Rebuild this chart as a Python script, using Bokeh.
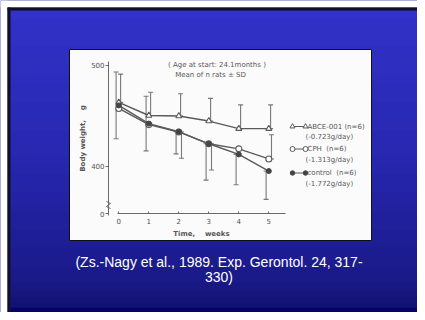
from bokeh.plotting import figure
from bokeh.models import Range1d, LinearAxis, FixedTicker
from bokeh.core.properties import value
from bokeh.embed import file_html
from bokeh.resources import INLINE

# ---------------- data ----------------
weeks = [0, 1, 2, 3, 4, 5]
abce_mean = [463, 450, 449.5, 444.5, 437, 437]
abce_sd_up = [28, 23, 22, 22.5, 23.5, 23.5]
abce_sd_down = [0, 0, 0, 0, 0, 0]
cph_mean = [457, 441, 433.7, 422, 417, 407]
cph_sd_up = [0, 0, 0, 0, 0, 24]
cph_sd_down = [0, 0, 26, 26, 0, 0]
ctrl_mean = [460, 442, 434, 422, 411.5, 395]
ctrl_sd_up = [33, 27, 0, 0, 0, 0]
ctrl_sd_down = [33, 27, 22, 36, 30, 28]
y_ticks = [500, 400]
y_break_value = 352.5
y_break_label = "0"
NB = "\u00a0"
title1 = "( Age at start: 24.1months )"
title2 = "Mean of n rats \u00b1 SD"
legend_names = ["ABCE-001 (n=6)", "CPH" + NB + NB + "(n=6)", "control" + NB + NB + "(n=6)"]
legend_rates = ["(-0.723g/day)", "(-1.313g/day)", "(-1.772g/day)"]
x_label = "Time," + NB * 4 + "weeks"
y_label = "Body weight," + NB * 4 + "g"
caption1 = "(Zs.-Nagy et al., 1989. Exp. Gerontol. 24, 317-"
caption2 = "330)"

# ---------------- layout ----------------
W, H = 417, 312
X0PX, XPX = 118.3, 30.0          # week 0 pixel, px per week
Y500PX, YPX = 64.5, 1.01          # pixel of 500 g, px per g


def px_x(fx):
    return (fx - X0PX) / XPX


def px_y(fy):
    return 500 - (fy - Y500PX) / YPX


p = figure(width=W, height=H, output_backend="svg", toolbar_location=None,
           x_range=Range1d(px_x(0), px_x(W)), y_range=Range1d(px_y(H), px_y(0)),
           min_border=0, x_axis_type=None, y_axis_type=None)
p.outline_line_color = None
p.grid.visible = False
p.background_fill_color = "#28289e"
p.border_fill_color = "white"

# gradient background of the slide
TOP0 = 10
stops = [(TOP0, (50, 50, 200)), (150, (40, 40, 178)), (280, (26, 26, 136)), (307, (18, 18, 112))]
lefts, rights, tops, bottoms, cols = [], [], [], [], []
for fy in range(TOP0, 307):
    for (a, ca), (b, cb) in zip(stops[:-1], stops[1:]):
        if a <= fy <= b:
            t = (fy - a) / (b - a)
            c = tuple(int(round(ca[k] + (cb[k] - ca[k]) * t)) for k in range(3))
            break
    lefts.append(px_x(TOP0)); rights.append(px_x(W))
    tops.append(px_y(fy)); bottoms.append(px_y(min(fy + 2, 307)))
    cols.append("#%02x%02x%02x" % c)
lefts.append(px_x(TOP0)); rights.append(px_x(W)); tops.append(px_y(307)); bottoms.append(px_y(H))
cols.append("#030368")
p.quad(left=lefts, right=rights, top=tops, bottom=bottoms, fill_color=cols, line_color=None)
# white page margin and dark edge left/top of the slide
p.quad(left=[px_x(0), px_x(0)], right=[px_x(7), px_x(W)], top=[px_y(0), px_y(0)],
       bottom=[px_y(H), px_y(7)], fill_color="white", line_color=None)
p.quad(left=[px_x(7), px_x(7)], right=[px_x(TOP0), px_x(W)], top=[px_y(7), px_y(7)],
       bottom=[px_y(H), px_y(TOP0)], fill_color="#10102a", line_color=None)

# white picture box
p.quad(left=[px_x(69)], right=[px_x(371)], top=[px_y(49)], bottom=[px_y(240)],
       fill_color="#fbfbfb", line_color="#111111", line_width=1)

GREY = "#6a6a6a"
TXT = "#585858"
FONT = value("DejaVu Sans")

# axes fixed inside frame
xaxis = LinearAxis(fixed_location=y_break_value, bounds=(-0.04, 5.56),
                   ticker=FixedTicker(ticks=weeks), axis_label=x_label)
xaxis.axis_line_color = GREY
xaxis.major_tick_line_color = GREY
xaxis.major_tick_in = 2
xaxis.major_tick_out = 0
xaxis.minor_tick_line_color = None
xaxis.major_label_text_font = "DejaVu Sans"
xaxis.major_label_text_font_size = "7px"
xaxis.major_label_text_color = "#505050"
xaxis.major_label_standoff = 4
xaxis.axis_label_text_font = "DejaVu Sans"
xaxis.axis_label_text_font_size = "7px"
xaxis.axis_label_text_font_style = "bold"
xaxis.axis_label_text_color = TXT
xaxis.axis_label_standoff = 3
p.add_layout(xaxis, "below")

yaxis = LinearAxis(fixed_location=px_x(108), bounds=(351, 503.5),
                   ticker=FixedTicker(ticks=y_ticks + [y_break_value]),
                   axis_label=y_label)
yaxis.major_label_overrides = {y_break_value: y_break_label}
yaxis.axis_line_color = GREY
yaxis.major_tick_line_color = GREY
yaxis.major_tick_in = 0
yaxis.major_tick_out = 3
yaxis.minor_tick_line_color = None
yaxis.major_label_text_font = "DejaVu Sans"
yaxis.major_label_text_font_size = "7px"
yaxis.major_label_text_color = "#505050"
yaxis.major_label_standoff = 1
yaxis.axis_label_text_font = "DejaVu Sans"
yaxis.axis_label_text_font_size = "7px"
yaxis.axis_label_text_font_style = "bold"
yaxis.axis_label_text_color = TXT
yaxis.axis_label_standoff = 1
p.add_layout(yaxis, "left")

# axis break mark
bx = [px_x(106), px_x(110), px_x(106), px_x(110)]
by = [px_y(201), px_y(203), px_y(206), px_y(208)]
p.line(bx, by, line_color=GREY, line_width=1)

# error bars
def errbars(means, up, down, offset):
    xs, y0, y1 = [], [], []
    for w, m, u, d in zip(weeks, means, up, down):
        if u > 0 or d > 0:
            xs.append(w + offset); y0.append(m - d); y1.append(m + u)
    p.segment(x0=xs, x1=xs, y0=y0, y1=y1, line_color="#777777", line_width=1.1)
    p.scatter(x=xs + xs, y=y1 + y0, marker="dash", size=5, line_color="#777777", line_width=1.1)

errbars(abce_mean, abce_sd_up, abce_sd_down, 0.06)
errbars(ctrl_mean, ctrl_sd_up, ctrl_sd_down, -0.09)
errbars(cph_mean, cph_sd_up, cph_sd_down, 0.09)

LINE = "#5a5a5a"
p.line(weeks, abce_mean, line_color=LINE, line_width=1.4)
p.line(weeks, cph_mean, line_color=LINE, line_width=1.4)
p.line(weeks, ctrl_mean, line_color=LINE, line_width=1.4)
p.scatter(weeks, abce_mean, marker="triangle", size=6, fill_color="white", line_color=LINE, line_width=1.1)
p.scatter(weeks, cph_mean, marker="circle", size=6, fill_color="white", line_color=LINE, line_width=1.1)
p.scatter(weeks, ctrl_mean, marker="circle", size=5, fill_color="#444444", line_color="#444444")

# titles
p.text(x=[px_x(216.5), px_x(210)], y=[px_y(64), px_y(74.5)], text=[title1, title2],
       text_font=FONT, text_font_size="7px", text_color=TXT,
       text_align="center", text_baseline="middle")

# legend (drawn manually, as in the scanned figure)
lx0, lx1 = px_x(292), px_x(305)
rows = [126, 148.5, 172.5]
markers = ["triangle", "circle", "circle"]
fills = ["white", "white", "#444444"]
msz = [5, 5, 4.5]
for r, mk, fc, ms in zip(rows, markers, fills, msz):
    p.line([lx0, lx1], [px_y(r), px_y(r)], line_color=LINE, line_width=1)
    p.scatter([lx0, lx1], [px_y(r), px_y(r)], marker=mk, size=ms, fill_color=fc,
              line_color=LINE if fc == "white" else fc, line_width=1)
p.text(x=[px_x(307)] * 3, y=[px_y(r) for r in rows], text=legend_names,
       text_font=FONT, text_font_size="7px", text_color=TXT,
       text_baseline="middle")
p.text(x=[px_x(305)] * 3, y=[px_y(r + 10.5) for r in rows], text=legend_rates,
       text_font=FONT, text_font_size="7px", text_color=TXT,
       text_baseline="middle")

# caption
p.text(x=[px_x(218.5), px_x(218.5)], y=[px_y(261.7), px_y(276.7)], text=[caption1, caption2],
       text_font=value("Liberation Sans"), text_font_size="14px", text_color="white",
       text_align="center", text_baseline="middle")

open("out.html", "w").write(file_html(p, INLINE))
